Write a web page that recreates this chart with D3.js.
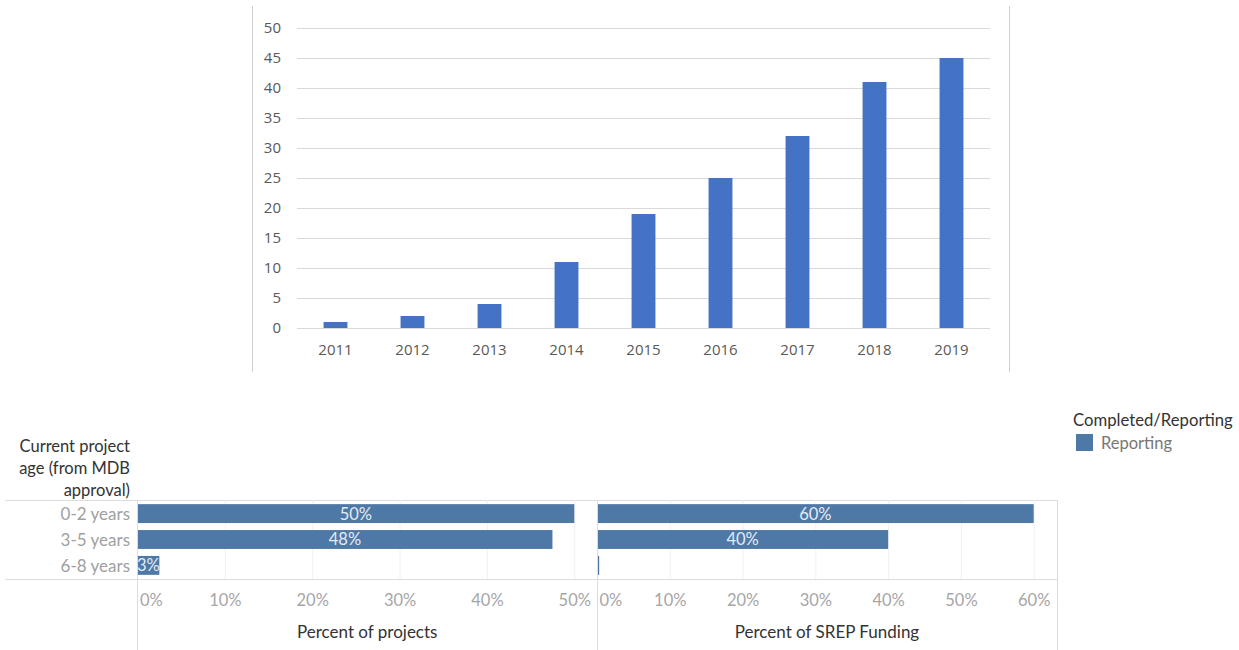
<!DOCTYPE html>
<html>
<head>
<meta charset="utf-8">
<script src="https://cdn.jsdelivr.net/npm/d3@7"></script>
<style>
  body { margin: 0; background: #fff; }
  svg { display: block; }
</style>
</head>
<body>
<div id="chart"></div>
<script>
// Top chart data
var years = ["2011", "2012", "2013", "2014", "2015", "2016", "2017", "2018", "2019"];
var projectCounts = [1, 2, 4, 11, 19, 25, 32, 41, 45];
var countTicks = [0, 5, 10, 15, 20, 25, 30, 35, 40, 45, 50];

// Bottom chart data
var ageGroups = ["0-2 years", "3-5 years", "6-8 years"];
var pctProjects = [50, 47.5, 2.5];
var pctFunding = [60, 40, 0.3];
var projectTicks = [0, 10, 20, 30, 40, 50];
var fundingTicks = [0, 10, 20, 30, 40, 50, 60];
var legendItems = ["Reporting"];

var svgWidth = 1239;
var svgHeight = 650;

var svg = d3.select("#chart")
  .append("svg")
  .attr("width", svgWidth)
  .attr("height", svgHeight);

// ---------- top column chart ----------
var topChart = svg.append("g");

// frame lines left and right
topChart.append("line")
  .attr("x1", 252.5).attr("x2", 252.5)
  .attr("y1", 6).attr("y2", 372)
  .attr("stroke", "#d0d0d0");
topChart.append("line")
  .attr("x1", 1009.5).attr("x2", 1009.5)
  .attr("y1", 6).attr("y2", 372)
  .attr("stroke", "#d0d0d0");

var xYear = d3.scaleBand()
  .domain(years)
  .range([297, 990])
  .paddingInner(0.69)
  .paddingOuter(0.345);

var yCount = d3.scaleLinear()
  .domain([0, 50])
  .range([328, 28]);

var yAxis = d3.axisLeft(yCount)
  .tickValues(countTicks)
  .tickSize(-(990 - 297))
  .tickPadding(16);

var yAxisG = topChart.append("g")
  .attr("transform", "translate(297,0)")
  .call(yAxis);
yAxisG.select(".domain").remove();
yAxisG.selectAll(".tick line").attr("stroke", "#d9d9d9");
yAxisG.selectAll(".tick text")
  .attr("fill", "#595959")
  .attr("font-family", "Open Sans")
  .attr("font-size", 15);

topChart.selectAll(".col")
  .data(years)
  .enter()
  .append("rect")
  .attr("class", "col")
  .attr("x", d => xYear(d))
  .attr("width", xYear.bandwidth())
  .attr("y", (d, i) => yCount(projectCounts[i]))
  .attr("height", (d, i) => yCount(0) - yCount(projectCounts[i]))
  .attr("fill", "#4472c4");

var xAxisG = topChart.append("g")
  .attr("transform", "translate(0,328)")
  .call(d3.axisBottom(xYear).tickSize(0).tickPadding(16));
xAxisG.select(".domain").remove();
xAxisG.selectAll(".tick text")
  .attr("fill", "#595959")
  .attr("font-family", "Open Sans")
  .attr("font-size", 15);

// ---------- bottom bar chart (two panes) ----------
var bottom = svg.append("g");
var paneTop = 500;
var paneBottom = 579;
var barFill = "#4e79a7";
var fontB = "Lato";

var yAge = d3.scaleBand()
  .domain(ageGroups)
  .range([paneTop, paneBottom])
  .paddingInner(0.27)
  .paddingOuter(0.16);

var xProj = d3.scaleLinear().domain([0, 52.6]).range([137.5, 597]);
var xFund = d3.scaleLinear().domain([0, 63.2]).range([597, 1057]);

// header line and axis line
bottom.append("line")
  .attr("x1", 5).attr("x2", 1057)
  .attr("y1", paneTop + 0.5).attr("y2", paneTop + 0.5)
  .attr("stroke", "#dcdcdc");
bottom.append("line")
  .attr("x1", 5).attr("x2", 1057)
  .attr("y1", paneBottom + 0.5).attr("y2", paneBottom + 0.5)
  .attr("stroke", "#dcdcdc");

function drawPane(xScale, ticks, values, title) {
  var g = bottom.append("g");

  // light gridlines
  g.selectAll(".grid")
    .data(ticks.slice(1))
    .enter()
    .append("line")
    .attr("x1", d => xScale(d) + 0.5)
    .attr("x2", d => xScale(d) + 0.5)
    .attr("y1", paneTop)
    .attr("y2", paneBottom)
    .attr("stroke", "#f0f0f0");

  g.selectAll(".bar")
    .data(ageGroups)
    .enter()
    .append("rect")
    .attr("x", xScale(0))
    .attr("y", d => yAge(d))
    .attr("height", yAge.bandwidth())
    .attr("width", (d, i) => Math.max(1.5, xScale(values[i]) - xScale(0)))
    .attr("fill", barFill);

  g.selectAll(".lbl")
    .data(ageGroups.filter((d, i) => values[i] >= 1))
    .enter()
    .append("text")
    .attr("x", d => (xScale(0) + xScale(values[ageGroups.indexOf(d)])) / 2)
    .attr("y", d => yAge(d) + yAge.bandwidth() / 2)
    .attr("dy", "0.36em")
    .attr("text-anchor", "middle")
    .attr("fill", "#e4eaf2")
    .attr("font-family", fontB)
    .attr("font-size", 16.5)
    .text(d => Math.round(values[ageGroups.indexOf(d)]) + "%");

  var axis = g.append("g")
    .attr("transform", "translate(0," + paneBottom + ")")
    .call(d3.axisBottom(xScale)
      .tickValues(ticks)
      .tickSize(0)
      .tickPadding(15)
      .tickFormat(d => d + "%"));
  axis.select(".domain").remove();
  axis.selectAll(".tick text")
    .attr("fill", "#a6a6a6")
    .attr("font-family", fontB)
    .attr("font-size", 16.5)
    .attr("text-anchor", d => d === 0 ? "start" : "middle")
    .attr("dx", d => d === 0 ? 2 : 0);

  g.append("text")
    .attr("x", (xScale.range()[0] + xScale.range()[1]) / 2)
    .attr("y", 632)
    .attr("dy", "0.35em")
    .attr("text-anchor", "middle")
    .attr("fill", "#333")
    .attr("font-family", fontB)
    .attr("font-size", 17)
    .text(title);
}

drawPane(xProj, projectTicks, pctProjects, "Percent of projects");
drawPane(xFund, fundingTicks, pctFunding, "Percent of SREP Funding");

// pane separators
[137.5, 597.5, 1057.5].forEach(function(x) {
  bottom.append("line")
    .attr("x1", x).attr("x2", x)
    .attr("y1", paneTop).attr("y2", svgHeight)
    .attr("stroke", "#dcdcdc");
});

// row labels
bottom.selectAll(".rowlbl")
  .data(ageGroups)
  .enter()
  .append("text")
  .attr("x", 130)
  .attr("y", d => yAge(d) + yAge.bandwidth() / 2)
  .attr("dy", "0.36em")
  .attr("text-anchor", "end")
  .attr("fill", "#a0a0a0")
  .attr("font-family", fontB)
  .attr("font-size", 17)
  .text(d => d);

// row header
var header = ["Current project", "age (from MDB", "approval)"];
bottom.selectAll(".hdr")
  .data(header)
  .enter()
  .append("text")
  .attr("x", 130)
  .attr("y", (d, i) => 446 + i * 22)
  .attr("dy", "0.35em")
  .attr("text-anchor", "end")
  .attr("fill", "#333")
  .attr("font-family", fontB)
  .attr("font-size", 16.5)
  .text(d => d);

// legend
svg.append("text")
  .attr("x", 1073)
  .attr("y", 420)
  .attr("dy", "0.35em")
  .attr("fill", "#333")
  .attr("font-family", fontB)
  .attr("font-size", 16.7)
  .text("Completed/Reporting");

var legend = svg.selectAll(".leg")
  .data(legendItems)
  .enter()
  .append("g")
  .attr("transform", (d, i) => "translate(1076," + (434 + i * 22) + ")");
legend.append("rect")
  .attr("width", 17)
  .attr("height", 17)
  .attr("fill", barFill);
legend.append("text")
  .attr("x", 25)
  .attr("y", 9)
  .attr("dy", "0.35em")
  .attr("fill", "#777")
  .attr("font-family", fontB)
  .attr("font-size", 16.5)
  .text(d => d);
</script>
</body>
</html>
